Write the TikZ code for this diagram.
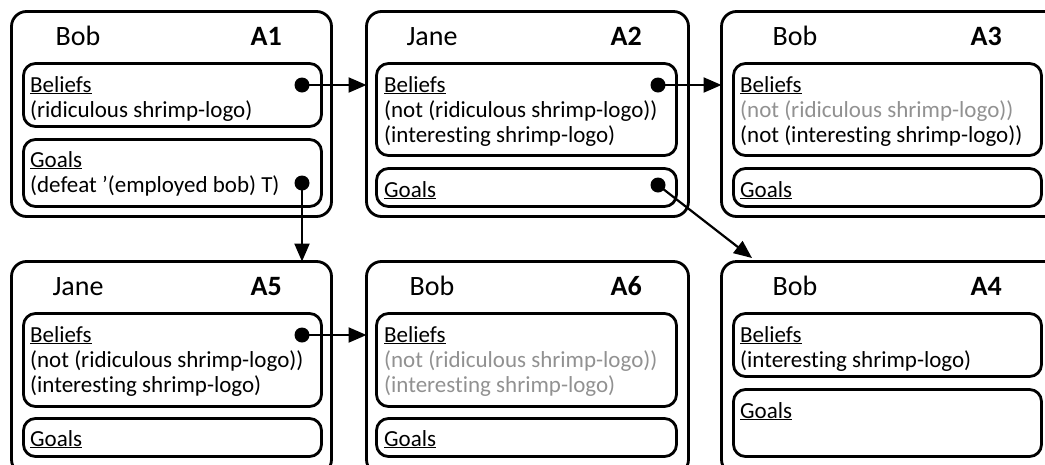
\documentclass[tikz,border=0pt]{standalone}
\usepackage{fontspec}
\setmainfont{Carlito}[Ligatures={NoCommon}]
\usetikzlibrary{arrows.meta}
\definecolor{lg}{RGB}{145,145,145}
\newcommand\sq{\char"27\relax}
\begin{document}
\begin{tikzpicture}[x=1pt,y=-1pt,
 outerbox/.style={draw, line width=2.8pt, rounded corners=15pt, anchor=north west, inner sep=0pt, outer sep=0pt},
 innerbox/.style={draw, line width=2.8pt, rounded corners=12pt, anchor=north west, inner sep=0pt, outer sep=0pt},
 ttl/.style={font=\fontsize{28}{32}\selectfont, anchor=base, inner sep=0pt},
 lbl/.style={font=\fontsize{28}{32}\selectfont\bfseries, anchor=base east, inner sep=0pt},
 ln/.style={font=\fontsize{23}{25}\selectfont, anchor=base west, inner sep=0pt},
 dot/.style={circle, fill, minimum size=15pt, inner sep=0pt},
 arr/.style={line width=2.2pt, -{Triangle[length=18pt,width=15pt]}}
]
\useasboundingbox (0,0) rectangle (1045,464);
\clip (0,0) rectangle (1045,464);

% outer boxes
\node[outerbox, minimum width=320pt, minimum height=205pt] (A1) at (11.5,11.5) {};
\node[outerbox, minimum width=322pt, minimum height=205pt] (A2) at (366.5,11.5) {};
\node[outerbox, minimum width=338pt, minimum height=205pt] (A3) at (721.5,11.5) {};
\node[outerbox, minimum width=320pt, minimum height=213pt] (A5) at (11.5,261.5) {};
\node[outerbox, minimum width=322pt, minimum height=213pt] (A6) at (366.5,261.5) {};
\node[outerbox, minimum width=338pt, minimum height=213pt] (A4) at (721.5,261.5) {};

% inner boxes
\node[innerbox, minimum width=298pt, minimum height=63pt] (A1b) at (23.5,63.5) {};
\node[innerbox, minimum width=298pt, minimum height=67pt] (A1g) at (23.5,139.5) {};
\node[innerbox, minimum width=300pt, minimum height=92pt] (A2b) at (376.5,63.5) {};
\node[innerbox, minimum width=300pt, minimum height=38pt] (A2g) at (376.5,168.5) {};
\node[innerbox, minimum width=308pt, minimum height=92pt] (A3b) at (733.5,63.5) {};
\node[innerbox, minimum width=308pt, minimum height=38pt] (A3g) at (733.5,168.5) {};
\node[innerbox, minimum width=298pt, minimum height=93pt] (A5b) at (23.5,313.5) {};
\node[innerbox, minimum width=298pt, minimum height=38pt] (A5g) at (23.5,418.5) {};
\node[innerbox, minimum width=300pt, minimum height=93pt] (A6b) at (376.5,313.5) {};
\node[innerbox, minimum width=300pt, minimum height=38pt] (A6g) at (376.5,418.5) {};
\node[innerbox, minimum width=308pt, minimum height=63pt] (A4b) at (733.5,313.5) {};
\node[innerbox, minimum width=308pt, minimum height=67pt] (A4g) at (733.5,389.5) {};

% titles
\node[ttl] (t1) at (78,45) {Bob};   \node[lbl] (l1) at (282,45) {A1};
\node[ttl] (t2) at (432,45) {Jane}; \node[lbl] (l2) at (642,45) {A2};
\node[ttl] (t3) at (795,45) {Bob};  \node[lbl] (l3) at (1002,45) {A3};
\node[ttl] (t5) at (78,295) {Jane}; \node[lbl] (l5) at (282,295) {A5};
\node[ttl] (t6) at (432,295) {Bob}; \node[lbl] (l6) at (642,295) {A6};
\node[ttl] (t4) at (795,295) {Bob}; \node[lbl] (l4) at (1002,295) {A4};

% A1
\node[ln] (a1b0) at (30,92) {\underline{Beliefs}};
\node[ln] (a1b1) at (30,117) {(ridiculous shrimp-logo)};
\node[ln] (a1g0) at (30,167) {\underline{Goals}};
\node[ln] (a1g1) at (30,192) {(defeat \sq(employed bob) T)};
% A2
\node[ln] (a2b0) at (384,92) {\underline{Beliefs}};
\node[ln] (a2b1) at (384,117) {(not (ridiculous shrimp-logo))};
\node[ln] (a2b2) at (384,142) {(interesting shrimp-logo)};
\node[ln] (a2g0) at (384,197) {\underline{Goals}};
% A3
\node[ln] (a3b0) at (740,92) {\underline{Beliefs}};
\node[ln, text=lg] (a3b1) at (740,117) {(not (ridiculous shrimp-logo))};
\node[ln] (a3b2) at (740,142) {(not (interesting shrimp-logo))};
\node[ln] (a3g0) at (740,197) {\underline{Goals}};
% A5
\node[ln] (a5b0) at (30,342) {\underline{Beliefs}};
\node[ln] (a5b1) at (30,367) {(not (ridiculous shrimp-logo))};
\node[ln] (a5b2) at (30,392) {(interesting shrimp-logo)};
\node[ln] (a5g0) at (30,446) {\underline{Goals}};
% A6
\node[ln] (a6b0) at (384,342) {\underline{Beliefs}};
\node[ln, text=lg] (a6b1) at (384,367) {(not (ridiculous shrimp-logo))};
\node[ln, text=lg] (a6b2) at (384,392) {(interesting shrimp-logo)};
\node[ln] (a6g0) at (384,446) {\underline{Goals}};
% A4
\node[ln] (a4b0) at (740,342) {\underline{Beliefs}};
\node[ln] (a4b1) at (740,367) {(interesting shrimp-logo)};
\node[ln] (a4g0) at (740,418) {\underline{Goals}};

% dots
\node[dot] (d1b) at (302,85) {};
\node[dot] (d1g) at (302,183) {};
\node[dot] (d2b) at (658,85) {};
\node[dot] (d2g) at (658,185) {};
\node[dot] (d5b) at (302,335) {};
\coordinate (t4tip) at (752,258);

% arrows
\draw[arr] (d1b.center) -- (d1b -| A2.west);
\draw[arr] (d2b.center) -- (d2b -| A3.west);
\draw[arr] (d5b.center) -- (d5b -| A6.west);
\draw[arr] (d1g.center) -- (d1g |- A5.north);
\draw[arr] (d2g.center) -- (t4tip);
\end{tikzpicture}
\end{document}
